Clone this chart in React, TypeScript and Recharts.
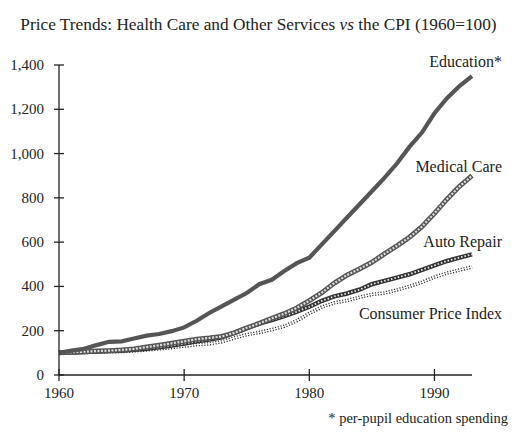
import React from 'react';
import { LineChart, Line, XAxis, YAxis, LabelList } from 'recharts';

const years = [
  1960, 1961, 1962, 1963, 1964, 1965, 1966, 1967, 1968, 1969,
  1970, 1971, 1972, 1973, 1974, 1975, 1976, 1977, 1978, 1979,
  1980, 1981, 1982, 1983, 1984, 1985, 1986, 1987, 1988, 1989,
  1990, 1991, 1992, 1993,
];

const education = [
  100, 110, 118, 135, 150, 152, 165, 178, 185, 198,
  215, 245, 280, 310, 340, 370, 410, 430, 470, 505,
  530, 590, 650, 710, 770, 830, 890, 955, 1030, 1095,
  1182, 1250, 1305, 1350,
];

const medicalCare = [
  100, 103, 105, 108, 110, 113, 118, 126, 134, 143,
  152, 162, 167, 174, 190, 213, 233, 256, 277, 303,
  336, 372, 415, 451, 479, 509, 547, 583, 622, 670,
  730, 794, 852, 900,
];

const autoRepair = [
  100, 102, 104, 106, 108, 110, 114, 119, 125, 133,
  142, 152, 160, 170, 190, 212, 232, 248, 266, 286,
  308, 335, 355, 368, 385, 410, 425, 440, 455, 475,
  495, 515, 530, 545,
];

const cpi = [
  100, 101, 102, 103, 105, 106, 109, 113, 118, 124,
  131, 137, 141, 150, 167, 182, 192, 205, 220, 245,
  278, 307, 326, 336, 351, 364, 370, 384, 400, 419,
  442, 460, 474, 488,
];

const yTicks = [0, 200, 400, 600, 800, 1000, 1200, 1400];
const xTicks = [1960, 1970, 1980, 1990];

const data = years.map((year, i) => ({
  year,
  education: education[i],
  medical: medicalCare[i],
  auto: autoRepair[i],
  cpi: cpi[i],
}));

const FONT = '"Liberation Serif", "Times New Roman", serif';
const INK = '#222';

// tick with a line crossing the axis on both sides
const YTick = (props: any) => {
  const { x, y, payload } = props;
  const axisX = x + 15;
  return (
    <g>
      <line x1={axisX - 5} x2={axisX + 5} y1={y} y2={y} stroke={INK} strokeWidth={1.3} />
      <text x={x} y={y} dy={5} textAnchor="end" fontFamily={FONT} fontSize={15} fill={INK}>
        {payload.value.toLocaleString('en-US')}
      </text>
    </g>
  );
};

const XTick = (props: any) => {
  const { x, y, payload } = props;
  const axisY = y - 6;
  return (
    <g>
      <line x1={x} x2={x} y1={axisY - 6} y2={axisY + 6} stroke={INK} strokeWidth={1.3} />
      <text x={x} y={axisY} dy={23} textAnchor="middle" fontFamily={FONT} fontSize={15} fill={INK}>
        {payload.value}
      </text>
    </g>
  );
};

// series name written near the end of its line
const endLabel = (text: string, dx: number, dy: number) => (props: any) => {
  const { x, y, index } = props;
  if (index !== years.length - 1) return null;
  return (
    <text x={x + dx} y={y + dy} dy={5} textAnchor="end" fontFamily={FONT} fontSize={16} fill={INK}>
      {text}
    </text>
  );
};

export default function App() {
  return (
    <div style={{ position: 'absolute', left: 0, top: 0, width: 531, height: 432, background: '#fff' }}>
      <div
        style={{
          position: 'absolute',
          left: 0,
          width: 517,
          top: 15,
          textAlign: 'center',
          fontFamily: FONT,
          fontSize: 17.3,
          color: INK,
          whiteSpace: 'nowrap',
        }}
      >
        Price Trends: Health Care and Other Services <i>vs</i> the CPI (1960=100)
      </div>
      <LineChart width={531} height={432} data={data} margin={{ top: 65, right: 59, left: 0, bottom: 27 }}>
        <XAxis
          dataKey="year"
          type="number"
          domain={[1960, 1993]}
          ticks={xTicks}
          tick={<XTick />}
          tickLine={false}
          tickSize={6}
          tickMargin={0}
          height={30}
          axisLine={{ stroke: INK, strokeWidth: 1.3 }}
        />
        <YAxis
          domain={[0, 1400]}
          ticks={yTicks}
          tick={<YTick />}
          tickLine={false}
          tickSize={5}
          tickMargin={10}
          width={59}
          axisLine={{ stroke: INK, strokeWidth: 1.3 }}
        />
        <Line dataKey="cpi" stroke="#333" strokeWidth={3.6} strokeDasharray="1.2 1.6" dot={false} activeDot={false} isAnimationActive={false}>
          <LabelList content={endLabel('Consumer Price Index', 30, 47)} />
        </Line>
        <Line dataKey="cpi" stroke="#fff" strokeWidth={1} dot={false} activeDot={false} isAnimationActive={false} />
        <Line dataKey="auto" stroke="#333" strokeWidth={4.5} dot={false} activeDot={false} isAnimationActive={false}>
          <LabelList content={endLabel('Auto Repair', 30, -12)} />
        </Line>
        <Line dataKey="auto" stroke="#eee" strokeWidth={1.8} strokeDasharray="1.5 2" dot={false} activeDot={false} isAnimationActive={false} />
        <Line dataKey="medical" stroke="#555" strokeWidth={5} dot={false} activeDot={false} isAnimationActive={false}>
          <LabelList content={endLabel('Medical Care', 30, -9)} />
        </Line>
        <Line dataKey="medical" stroke="#ddd" strokeWidth={2.2} strokeDasharray="2 1.5" dot={false} activeDot={false} isAnimationActive={false} />
        <Line dataKey="education" stroke="#555" strokeWidth={4.2} dot={false} activeDot={false} isAnimationActive={false}>
          <LabelList content={endLabel('Education*', 30, -14)} />
        </Line>
      </LineChart>
      <div
        style={{
          position: 'absolute',
          right: 23,
          top: 410,
          fontFamily: FONT,
          fontSize: 14.5,
          color: INK,
          whiteSpace: 'nowrap',
        }}
      >
        * per-pupil education spending
      </div>
    </div>
  );
}
